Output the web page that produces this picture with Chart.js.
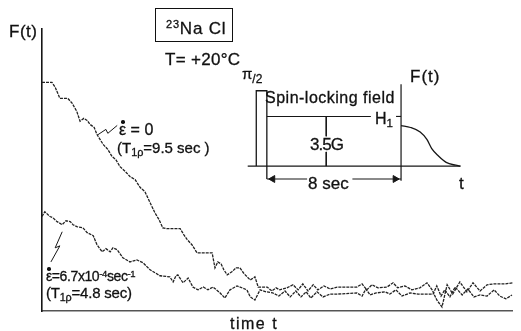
<!DOCTYPE html>
<html>
<head>
<meta charset="utf-8">
<script src="https://cdn.jsdelivr.net/npm/chart.js@4.4.1/dist/chart.umd.min.js"></script>
<style>
  html, body { margin: 0; padding: 0; background: #fff; }
  #wrap {
    position: relative; width: 521px; height: 331px; overflow: hidden;
    font-family: "Liberation Sans", Arial, sans-serif; color: #111;
  }
  #wrap canvas { position: absolute; }
  .lbl {
    position: absolute; white-space: nowrap; line-height: 1;
    -webkit-text-stroke: 0.3px #111;
  }
  .sub { font-size: 0.72em; position: relative; top: 0.3em; }
  .sup { font-size: 0.68em; position: relative; top: -0.45em; }
  /* epsilon with a rate dot on top */
  .edot { position: relative; display: inline-block; }
  .edot::before {
    content: ""; position: absolute; left: 50%; top: -0.12em;
    width: 3.5px; height: 3.5px; margin-left: -1.5px;
    border-radius: 50%; background: #111;
  }
  #box {
    position: absolute; left: 155px; top: 8px; width: 76px; height: 32px;
    border: 1.5px solid #111;
  }
</style>
</head>
<body>
<div id="wrap">
  <canvas id="main" width="521" height="331" style="left:0;top:0"></canvas>
  <canvas id="inset" width="240" height="125" style="left:235px;top:70px"></canvas>

  <div class="lbl" style="left:9px;top:23px;font-size:17px;letter-spacing:0.5px">F(t)</div>
  <div id="box"></div>
  <div class="lbl" style="left:166px;top:20px;font-size:17px;letter-spacing:0.8px"><span style="font-size:11px;position:relative;top:-6px">23</span>Na Cl</div>
  <div class="lbl" style="left:165px;top:51px;font-size:17px;letter-spacing:0.3px">T= +20°C</div>

  <!-- pulse sequence labels -->
  <div class="lbl" style="left:242px;top:66px;font-size:15px">π<span style="font-size:12px;position:relative;top:4px">/2</span></div>
  <div class="lbl" style="left:265px;top:90px;font-size:16px;letter-spacing:0.5px">Spin-locking field</div>
  <div class="lbl" style="left:375px;top:111px;font-size:16px">H<span class="sub">1</span></div>
  <div class="lbl" style="left:310px;top:136px;font-size:17px;letter-spacing:-1px">3.5G</div>
  <div class="lbl" style="left:308px;top:175px;font-size:17px">8 sec</div>
  <div class="lbl" style="left:459px;top:175px;font-size:17px">t</div>
  <div class="lbl" style="left:410px;top:68px;font-size:17px;letter-spacing:1px">F(t)</div>

  <!-- curve annotations -->
  <div class="lbl" style="left:119px;top:122px;font-size:16px"><span class="edot">ε</span> = 0</div>
  <div class="lbl" style="left:117px;top:140px;font-size:15px">(T<span class="sub">1ρ</span>=9.5 sec )</div>
  <div class="lbl" style="left:46px;top:269px;font-size:14px;letter-spacing:-0.4px"><span class="edot">ε</span>=6.7x10<span class="sup">-4</span>sec<span class="sup">-1</span></div>
  <div class="lbl" style="left:46px;top:285px;font-size:15px;letter-spacing:-0.2px">(T<span class="sub">1ρ</span>=4.8 sec)</div>

  <div class="lbl" style="left:230px;top:316px;font-size:16px;letter-spacing:1.5px">time t</div>
</div>

<script>
// Decay traces F(t), time and amplitude in arbitrary units (0-100)
const upperT = [0, 2.1, 2.8, 3.8, 5.5, 6.4, 7.4, 8.1, 8.9, 9.6, 10.2, 11.1, 11.7, 13.0, 14.0,
  14.9, 15.7, 16.6, 17.7, 18.7, 19.8, 20.9, 21.9, 23.0, 24.0, 24.9, 25.7, 26.6, 29.4, 30.2,
  30.9, 31.9, 33.0, 36.2, 36.8, 37.4, 38.1, 38.7, 39.4, 40.4, 41.3, 42.1, 43.0, 44.3, 45.3,
  46.0, 47.9, 48.9, 49.8, 50.6, 52.1, 53.4, 54.5, 55.5, 56.6, 57.7, 58.7, 60.0, 61.3, 62.8,
  67.0, 68.1, 69.1, 70.2, 71.5, 73.4, 74.7, 75.7, 77.2, 78.7, 80.4, 81.9, 83.0, 84.0, 85.1,
  86.2, 87.4, 88.9, 90.4, 91.7, 93.2, 94.7, 96.0, 98.5, 100.2, 101.1, 101.3];
const upperF = [81.1, 81.1, 79.4, 75.4, 75.4, 73.7, 70.8, 67.3, 68.3, 67.6, 66.2, 65.1, 62.6, 59.1, 57.3,
  54.8, 53.7, 51.2, 49.5, 47.7, 46.6, 43.8, 42.3, 38.4, 34.9, 32.4, 29.5, 29.2, 29.2, 27.0,
  25.3, 23.5, 20.6, 20.6, 15.3, 17.4, 16.7, 14.6, 12.8, 13.9, 15.3, 15.3, 13.2, 11.0, 12.1,
  8.5, 8.5, 7.1, 8.2, 7.5, 8.2, 9.3, 7.5, 9.6, 7.1, 9.3, 7.5, 8.9, 7.8, 8.5,
  8.5, 9.6, 7.5, 9.3, 8.2, 8.5, 10.0, 8.2, 8.9, 7.5, 8.2, 10.0, 7.5, 3.9, 1.4,
  9.3, 6.0, 10.3, 6.8, 10.0, 7.1, 9.3, 9.6, 9.6, 10.0, 12.1, 7.5];

const lowerT = [0, 0.6, 1.7, 2.3, 3.2, 4.3, 5.1, 6.0, 6.6, 7.4, 8.7, 9.6, 10.9, 11.7, 12.8,
  13.6, 14.5, 15.1, 16.0, 17.2, 18.7, 20.2, 21.5, 23.0, 25.1, 27.2, 27.9, 28.5, 28.9, 30.0,
  31.1, 32.1, 33.2, 34.3, 35.3, 36.4, 37.9, 38.9, 40.0, 41.5, 43.6, 44.3, 45.3, 46.4, 47.7,
  49.1, 50.4, 51.7, 52.8, 54.0, 55.1, 56.2, 57.2, 58.5, 59.8, 61.3, 62.8, 67.0, 68.1, 68.9,
  69.8, 71.1, 73.0, 74.0, 75.3, 76.6, 78.3, 80.0, 83.2, 84.0, 84.9, 85.7, 86.8, 87.9, 89.4,
  90.6, 91.9, 93.2, 94.7, 96.2, 97.4, 98.7, 100.0, 100.9];
const lowerF = [33.5, 35.2, 33.5, 33.1, 31.7, 30.6, 32.0, 31.7, 30.6, 29.9, 29.5, 27.8, 26.7, 23.5, 21.0,
  22.1, 21.0, 22.4, 21.7, 18.9, 17.4, 18.1, 17.1, 14.6, 12.5, 12.1, 10.3, 12.5, 12.8, 10.0,
  11.7, 8.5, 7.5, 8.5, 7.5, 8.5, 6.4, 4.6, 7.5, 8.9, 7.5, 5.0, 3.9, 7.5, 6.8,
  6.4, 5.3, 7.1, 5.0, 7.1, 5.0, 6.8, 4.6, 6.8, 5.0, 6.0, 6.0, 6.4, 5.3, 7.8,
  5.7, 6.4, 6.8, 6.0, 7.5, 5.3, 6.4, 6.0, 6.0, 8.9, 5.3, 7.5, 5.0, 8.5, 5.7,
  7.8, 5.0, 5.7, 5.3, 7.5, 5.3, 4.3, 5.7, 6.4];

// zigzag leaders from the labels to the traces
const leadUpperT = [11.7, 13.6, 14.0, 16.0];
const leadUpperF = [62.3, 64.4, 63.0, 65.8];
const leadLowerT = [4.3, 2.8, 3.8, 1.9];
const leadLowerF = [28.1, 22.4, 23.1, 17.4];

// Pulse sequence sketch: time in sec after the pulse, field in gauss
const baseT = [-1.14, 11.54], baseG = [0, 0];
const pulseT = [-0.63, -0.63, 0, 0], pulseG = [0, 5.31, 5.31, -0.91];
const lockT = [0, 6.2], lockG = [3.5, 3.5];
const h1TickT = [7.7, 8], h1TickG = [3.5, 3.5];
const ampTopT = [3.54, 3.54], ampTopG = [3.5, 2.1];
const ampBotT = [3.54, 3.54], ampBotG = [1.0, 0];
const readT = [8, 8], readG = [5.77, -1.04];
const fidT = [8, 8.57, 9.14, 9.54, 9.83, 10.23, 10.69, 11.26, 11.54];
const fidG = [2.85, 2.72, 2.40, 1.88, 1.23, 0.71, 0.26, 0.06, 0];
const spanLeftT = [0, 2.4], spanRightT = [5.1, 8], spanG = [-0.91, -0.91];
const arrowT = [0.35, 7.65], arrowG = [-0.91, -0.91], arrowRot = [-90, 90];

const INK = "#161616";

function pts(xs, ys) {
  return xs.map((x, i) => ({ x: x, y: ys[i] }));
}

function trace(xs, ys, width) {
  return {
    data: pts(xs, ys),
    borderColor: INK,
    borderWidth: width,
    pointRadius: 0,
    tension: 0,
    fill: false,
    clip: false,
  };
}

// recorder traces are a bit broken up
function recorderTrace(xs, ys) {
  return Object.assign(trace(xs, ys, 1.3), { borderDash: [3, 1], borderColor: "#222" });
}

function hiddenAxis(min, max) {
  return { type: "linear", display: false, min: min, max: max };
}

new Chart(document.getElementById("main"), {
  type: "line",
  data: {
    datasets: [
      recorderTrace(upperT, upperF),
      recorderTrace(lowerT, lowerF),
      trace(leadUpperT, leadUpperF, 1),
      trace(leadLowerT, leadLowerF, 1),
    ],
  },
  options: {
    responsive: false,
    animation: false,
    events: [],
    devicePixelRatio: 1,
    layout: { padding: { left: 42, right: 9, top: 29, bottom: 20 } },
    plugins: { legend: { display: false }, tooltip: { enabled: false } },
    scales: {
      x: {
        type: "linear", min: 0, max: 100,
        ticks: { display: false },
        grid: { display: false, drawTicks: false },
        border: { display: true, color: "#555", width: 1.6 },
      },
      y: {
        type: "linear", min: 0, max: 100,
        ticks: { display: false },
        grid: { display: false, drawTicks: false },
        border: { display: true, color: INK, width: 1.6 },
      },
    },
  },
});

new Chart(document.getElementById("inset"), {
  type: "line",
  data: {
    datasets: [
      trace(baseT, baseG, 1.3),
      trace(pulseT, pulseG, 1.3),
      trace(lockT, lockG, 1.1),
      trace(h1TickT, h1TickG, 1.1),
      trace(ampTopT, ampTopG, 1),
      trace(ampBotT, ampBotG, 1),
      trace(readT, readG, 1.2),
      Object.assign(trace(fidT, fidG, 1.3), { cubicInterpolationMode: "monotone" }),
      trace(spanLeftT, spanG, 1.1),
      trace(spanRightT, spanG, 1.1),
      {
        data: pts(arrowT, arrowG),
        showLine: false,
        pointStyle: "triangle",
        pointRadius: 4,
        pointRotation: arrowRot,
        pointBackgroundColor: INK,
        pointBorderColor: INK,
        pointBorderWidth: 1,
        clip: false,
      },
    ],
  },
  options: {
    responsive: false,
    animation: false,
    events: [],
    devicePixelRatio: 1,
    layout: { padding: 0 },
    plugins: { legend: { display: false }, tooltip: { enabled: false } },
    scales: {
      x: hiddenAxis(-1.6, 12.11),
      y: hiddenAxis(-1.685, 6.42),
    },
  },
});
</script>
</body>
</html>
